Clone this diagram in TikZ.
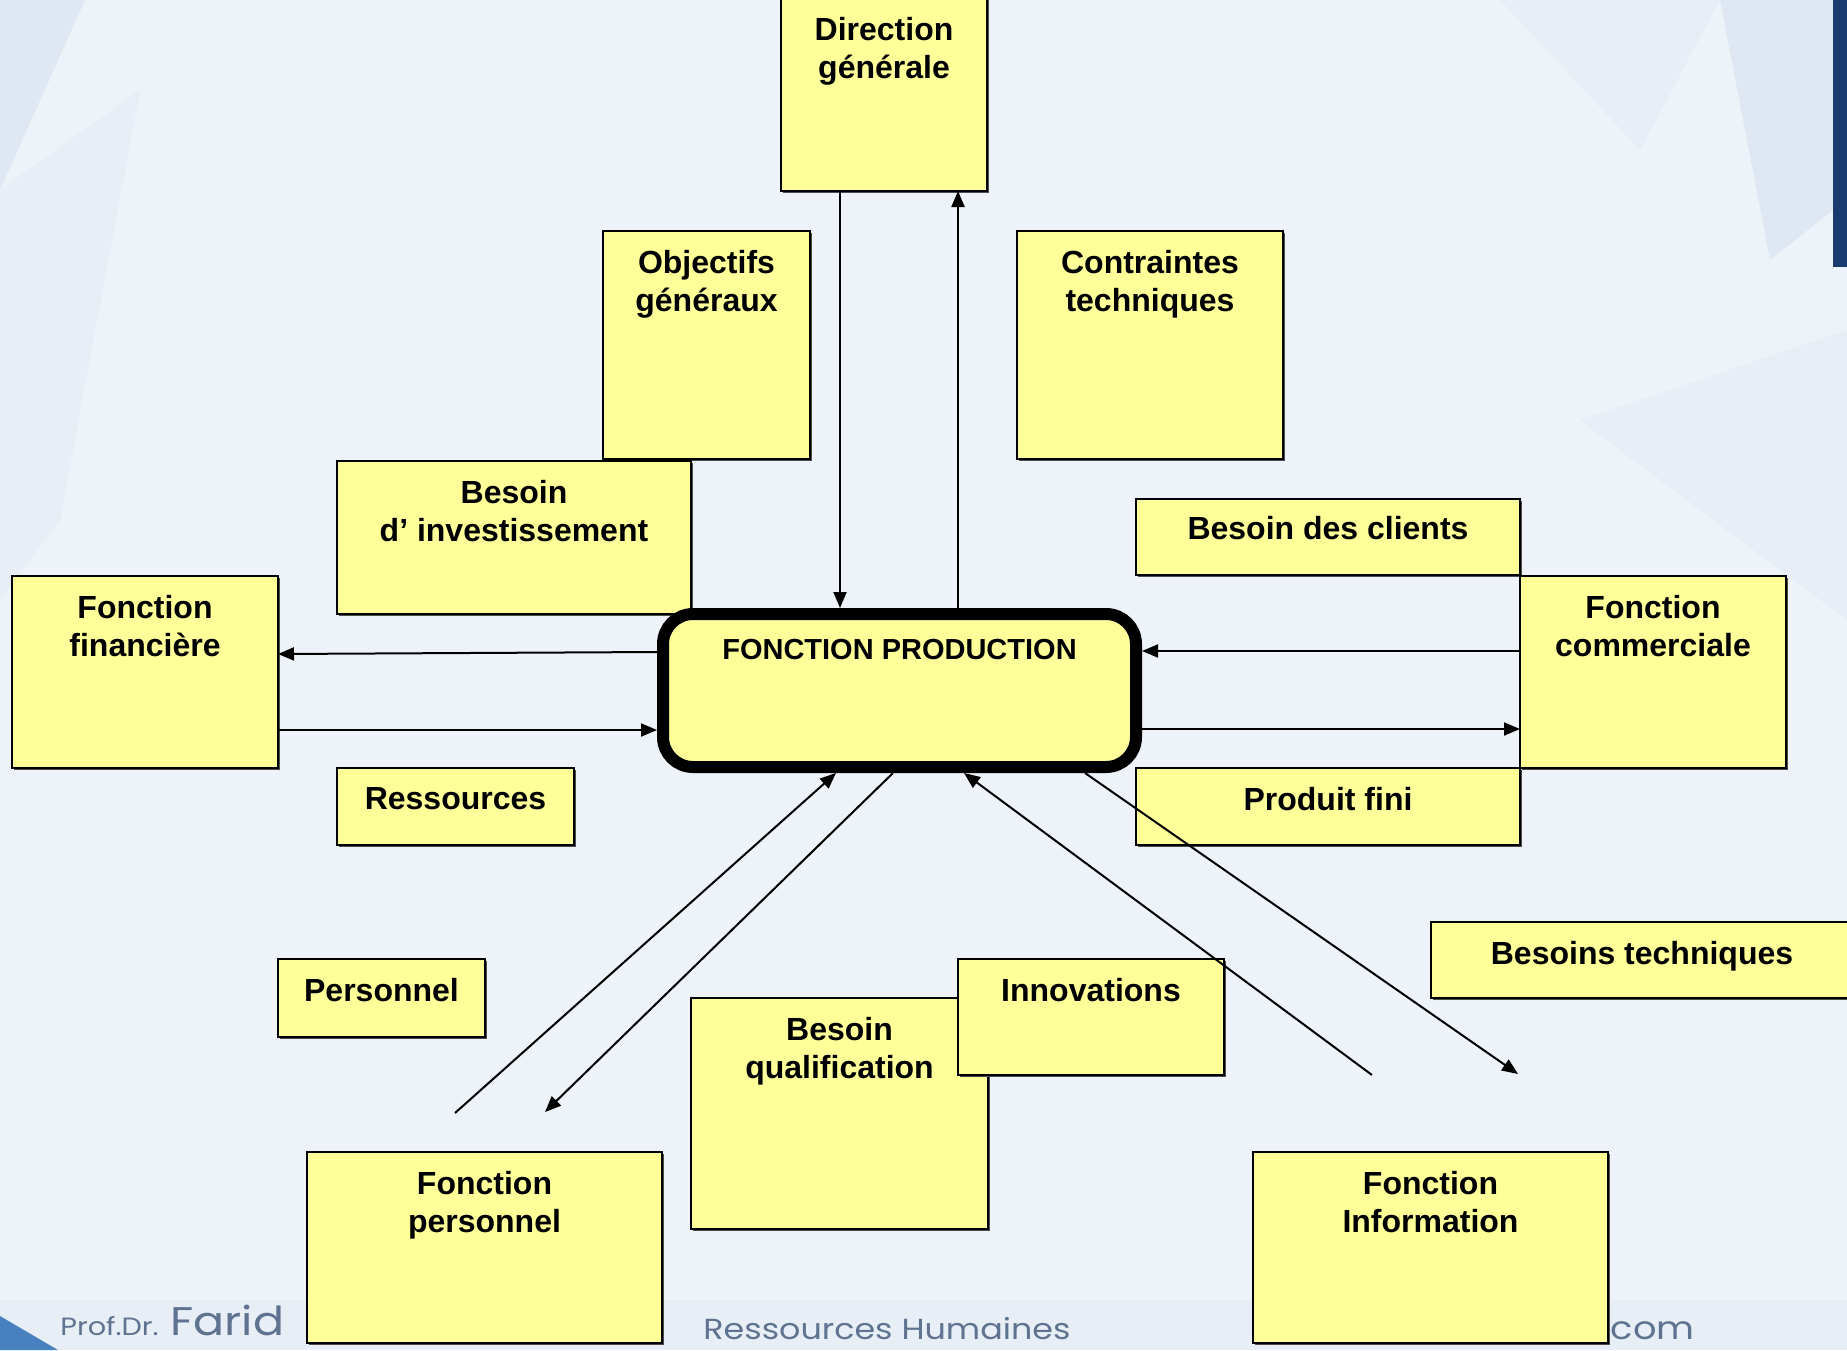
\documentclass[tikz,border=0pt]{standalone}
\usepackage{fontspec}
\setmainfont{Liberation Sans}
\newfontfamily\footfont[FakeStretch=1.15]{Poppins}
\usetikzlibrary{arrows.meta,shadows}

\definecolor{boxyellow}{RGB}{255,255,153}
\definecolor{bgblue}{RGB}{238,243,249}
\definecolor{facetblue}{RGB}{223,232,242}
\definecolor{facetpale}{RGB}{231,238,246}
\definecolor{stripblue}{RGB}{27,58,111}
\definecolor{wedgeblue}{RGB}{72,128,192}
\definecolor{footgray}{RGB}{95,115,145}

\tikzset{
  box/.style 2 args={draw=black, line width=0.8pt, fill=boxyellow,
    minimum width=#1*0.5pt, minimum height=#2*0.5pt, anchor=north west,
    inner sep=0pt, outer sep=0pt,
    drop shadow={shadow xshift=0.8pt, shadow yshift=-0.8pt, fill=black!70, opacity=1}},
  txt/.style={anchor=north, yshift=-9.5pt, align=center, inner sep=0pt,
    font=\bfseries\fontsize{16}{19}\selectfont},
  link/.style={line width=1pt, -{Triangle[length=8pt,width=6.5pt]}},
  foot/.style={inner sep=0pt, text=footgray},
}

\begin{document}
\begin{tikzpicture}[x=0.5pt,y=-0.5pt]
  \useasboundingbox (0,0) rectangle (1847,1350);
  % background
  \fill[bgblue] (0,0) rectangle (1847,1350);
  \fill[facetblue] (0,0) -- (85,0) -- (0,190) -- cycle;
  \fill[facetpale] (0,190) -- (140,90) -- (60,520) -- (0,600) -- cycle;
  \fill[facetpale] (1500,0) -- (1720,0) -- (1640,150) -- cycle;
  \fill[facetblue] (1720,0) -- (1833,0) -- (1833,210) -- (1770,260) -- cycle;
  \fill[facetpale] (1580,420) -- (1847,330) -- (1847,620) -- cycle;
  \fill[facetpale] (0,1300) rectangle (1847,1350);
  \fill[stripblue] (1833,0) rectangle (1847,267);
  \fill[wedgeblue] (0,1316) -- (58,1350) -- (0,1350) -- cycle;

  % footer
  \node[foot, anchor=base west, font=\footfont\fontsize{12.5}{14}\selectfont] (prof) at (60,1335) {Prof.Dr.};
  \node[foot, anchor=base west, font=\footfont\fontsize{20}{22}\selectfont] (farid) at (170,1335) {Farid};
  \node[foot, anchor=base west, font=\footfont\fontsize{14.5}{17}\selectfont] (rh) at (703,1339) {Ressources Humaines};
  \node[foot, anchor=base east, font=\footfont\fontsize{16}{18}\selectfont] (web) at (1695,1339) {.com};

  % boxes
  \node[box={206}{193}, label={[txt]north:{Direction\\générale}}] (dg) at (781,-2) {};
  \node[box={207}{228}, label={[txt]north:{Objectifs\\généraux}}] (obj) at (603,231) {};
  \node[box={266}{228}, label={[txt]north:{Contraintes\\techniques}}] (ctr) at (1017,231) {};
  \node[box={354}{153}, label={[txt]north:{Besoin\\d’ investissement}}] (inv) at (337,461) {};
  \node[box={384}{76}, label={[txt, yshift=1pt]north:{Besoin des clients}}] (cli) at (1136,499) {};
  \node[box={266}{192}, label={[txt]north:{Fonction\\financière}}] (fin) at (12,576) {};
  \node[box={266}{192}, label={[txt]north:{Fonction\\commerciale}}] (com) at (1520,576) {};
  \node[box={237}{77}, label={[txt]north:{Ressources}}] (res) at (337,768) {};
  \node[box={384}{77}, label={[txt]north:{Produit fini}}] (pf) at (1136,768) {};
  \node[box={422}{76}, label={[txt]north:{Besoins techniques}}] (bt) at (1431,922) {};
  \node[box={207}{78}, label={[txt]north:{Personnel}}] (pers) at (278,959) {};
  \node[box={297}{231}, label={[txt]north:{Besoin\\qualification}}] (qual) at (691,998) {};
  \node[box={266}{116}, label={[txt]north:{Innovations}}] (inno) at (958,959) {};
  \node[box={355}{191}, label={[txt]north:{Fonction\\personnel}}] (fp) at (307,1152) {};
  \node[box={355}{191}, label={[txt]north:{Fonction\\Information}}] (fi) at (1253,1152) {};

  \node[draw=black, line width=6pt, fill=boxyellow, rounded corners=15pt,
    minimum width=236.5pt, minimum height=76.5pt, anchor=north west,
    inner sep=0pt, outer sep=3pt,
    label={[txt, yshift=-6pt, font=\bfseries\fontsize{14.5}{17}\selectfont]north:{FONCTION PRODUCTION}}] (prod) at (657,608) {};

  % links
  \draw[link] (840,0 |- dg.south) -- (840,0 |- prod.north);
  \draw[link] (958,0 |- prod.north) -- (958,0 |- dg.south);
  \draw[link] (0,652 -| prod.west) -- (0,654 -| fin.east);
  \draw[link] (0,730 -| fin.east) -- (0,730 -| prod.west);
  \draw[link] (0,651 -| com.west) -- (0,651 -| prod.east);
  \draw[link] (0,729 -| prod.east) -- (0,729 -| com.west);

  \coordinate (pers-in) at (455,1113);
  \coordinate (pers-out) at (545,1112);
  \coordinate (info-in) at (1372,1075);
  \coordinate (info-out) at (1518,1074);
  \draw[link] (pers-in) -- (836,0 |- prod.south);
  \draw[link] (893,0 |- prod.south) -- (pers-out);
  \draw[link] (info-in) -- (964,0 |- prod.south);
  \draw[link] (1085,0 |- prod.south) -- (info-out);
\end{tikzpicture}
\end{document}
